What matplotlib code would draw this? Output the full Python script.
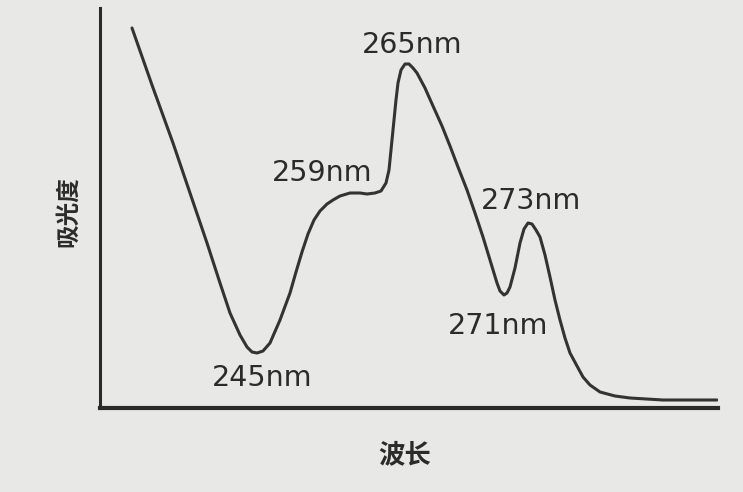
import matplotlib
matplotlib.use('Agg')
from matplotlib import pyplot as plt

# curve: position along the wavelength axis, absorbance (arbitrary units)
position = [32, 52, 73, 90, 107, 120, 130, 140, 147, 152, 157, 163, 170, 180, 190, 196, 202, 208,
            214, 220, 227, 233, 240, 250, 260, 267, 275, 281, 286, 289, 291, 293, 296, 298, 301,
            305, 309, 313, 317, 325, 333, 342, 350, 358, 367, 375, 383, 390, 397, 400, 404, 407,
            410, 415, 420, 424, 428, 432, 436, 440, 445, 450, 455, 460, 465, 470, 477, 483, 490,
            500, 515, 530, 563, 590, 617]
absorbance = [380, 323, 265, 215, 165, 125, 95, 73, 61, 56, 55, 57, 65, 88, 115, 136, 156, 174,
              188, 197, 204, 208, 212, 215, 215, 214, 215, 217, 225, 238, 258, 278, 308, 325, 338,
              344, 344, 340, 335, 320, 302, 282, 262, 241, 218, 195, 171, 148, 125, 117, 113, 115,
              121, 140, 165, 179, 185, 184, 178, 171, 153, 131, 108, 88, 70, 55, 42, 31, 23, 16,
              12, 10, 8, 8, 8]

# labelled features: name, position of the feature
feature_names = ['245nm', '259nm', '265nm', '271nm', '273nm']
feature_pos = [157, 250, 305, 404, 428]
label_offsets = [(5, -25), (-28, 20), (7, 19), (-6, -31), (3, 22)]

ink = '#333333'
bg = '#e8e8e6'

fig = plt.figure(figsize=(7.43, 4.92), dpi=100, facecolor=bg)
ax = fig.add_axes([100 / 743, 84 / 492, 618 / 743, 400 / 492])
ax.set_facecolor(bg)
ax.plot(position, absorbance, color=ink, linewidth=2.2, solid_capstyle='round',
        solid_joinstyle='round')
ax.set_xlim(0, 618)
ax.set_ylim(0, 400)

for name, pos, off in zip(feature_names, feature_pos, label_offsets):
    i = position.index(pos)
    ax.annotate(name, xy=(position[i], absorbance[i]), xytext=off, textcoords='offset pixels',
                ha='center', va='center', fontsize=20.5, color='#2b2b2b', family=['DejaVu Sans'])

for side in ['top', 'right']:
    ax.spines[side].set_visible(False)
ax.spines['left'].set_linewidth(2.2)
ax.spines['bottom'].set_linewidth(3)
ax.spines['left'].set_color('#2a2a2a')
ax.spines['bottom'].set_color('#2a2a2a')
ax.set_xticks([])
ax.set_yticks([])

cjk = ['Noto Sans CJK SC', 'DejaVu Sans']
fig.text(68 / 743, 1 - 212 / 492, '吸光度', rotation=90, ha='center', va='center',
         fontsize=17, fontweight='bold', color='#2b2b2b', family=cjk)
fig.text(405 / 743, 1 - 455 / 492, '波长', ha='center', va='center',
         fontsize=19, fontweight='bold', color='#2b2b2b', family=cjk)

fig.savefig('out.png', dpi=100, facecolor=bg)
